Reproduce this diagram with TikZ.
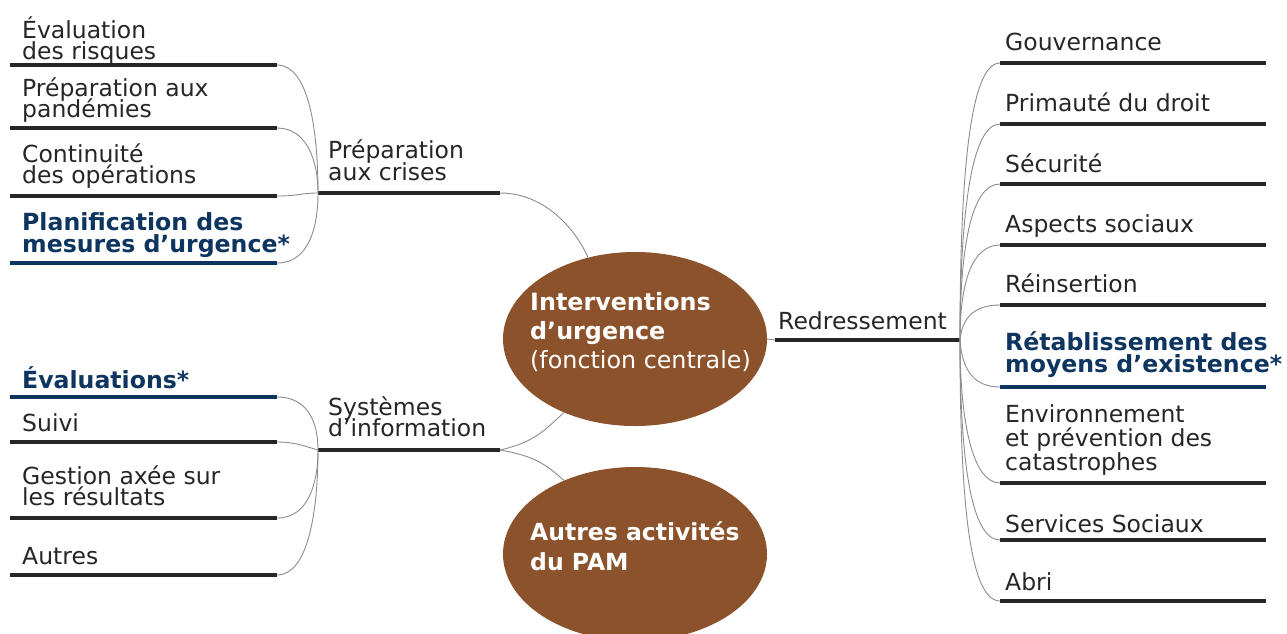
\documentclass[tikz,border=0pt]{standalone}
\usepackage{fontspec}
\setmainfont{DejaVu Sans}
\usetikzlibrary{shapes.geometric}
\definecolor{barcol}{HTML}{262626}
\definecolor{navy}{HTML}{0D3560}
\definecolor{ellbrown}{HTML}{8B522B}
\definecolor{linkgray}{HTML}{8C8C8C}
\definecolor{txt}{HTML}{262626}
\newcommand\mlines[2]{\vtop{\baselineskip=#1\lineskiplimit=-100pt\relax #2}}
\begin{document}
\begin{tikzpicture}[x=1pt,y=-1pt,
  barline/.style={line width=4pt, draw=barcol},
  keybar/.style={line width=4pt, draw=navy},
  link/.style={draw=linkgray, line width=0.9pt},
  leaf/.style={anchor=base west, inner sep=0pt, text=txt,
    font=\fontsize{23.5}{21.5}\selectfont},
  keyleaf/.style={leaf, text=navy, font=\fontsize{23.6}{21.5}\selectfont\bfseries},
  ell/.style={ellipse, fill=ellbrown, minimum width=264pt, minimum height=174pt, inner sep=0pt, outer sep=0pt},
  elltext/.style={anchor=base west, inner sep=0pt, text=white,
    font=\fontsize{23.8}{29}\selectfont},
]
\useasboundingbox (0,0) rectangle (1287,633);

% ---------- central ellipses ----------
\node[ell] (ci) at (635,339) {};
\node[elltext] (citext) at (530,310) {\mlines{29pt}{\hbox{\fontsize{23.8}{29}\selectfont\bfseries Interventions}\hbox{\fontsize{23.8}{29}\selectfont\bfseries d’urgence}\hbox{(fonction centrale)}}};
\node[ell] (ce) at (635,554) {};
\node[elltext, font=\fontsize{23.5}{30}\selectfont\bfseries] (cetext) at (530,540) {\mlines{30pt}{\hbox{Autres activités}\hbox{du PAM}}};

% ---------- Préparation aux crises ----------
\coordinate (pcL) at (318,193); \coordinate (pcR) at (500,193);
\draw[barline] (pcL) -- (pcR);
\node[leaf] (pctext) at (328,158) {\mlines{22pt}{\hbox{Préparation}\hbox{aux crises}}};

\coordinate (a1L) at (10,65);  \coordinate (a1R) at (277,65);
\coordinate (a2L) at (10,128); \coordinate (a2R) at (277,128);
\coordinate (a3L) at (10,196); \coordinate (a3R) at (277,196);
\coordinate (a4L) at (10,263); \coordinate (a4R) at (277,263);
\draw[barline] (a1L) -- (a1R);
\draw[barline] (a2L) -- (a2R);
\draw[barline] (a3L) -- (a3R);
\draw[keybar] (a4L) -- (a4R);
\node[leaf] (a1) at (22,38) {\mlines{21pt}{\hbox{Évaluation}\hbox{des risques}}};
\node[leaf] (a2) at (22,96.5) {\mlines{21pt}{\hbox{Préparation aux}\hbox{pandémies}}};
\node[leaf] (a3) at (22,162.5) {\mlines{21pt}{\hbox{Continuité}\hbox{des opérations}}};
\node[keyleaf] (a4) at (22,230) {\mlines{22pt}{\hbox{Planification des}\hbox{mesures d’urgence*}}};

\draw[link] (a1R) .. controls +(32,0) and +(0,-62) .. (pcL);
\draw[link] (a2R) .. controls +(30,0) and +(0,-32) .. (pcL);
\draw[link] (a3R) .. controls +(22,0) and +(-18,0) .. (pcL);
\draw[link] (a4R) .. controls +(32,0) and +(0,34) .. (pcL);

% ---------- Systèmes d'information ----------
\coordinate (siL) at (318,450); \coordinate (siR) at (500,450);
\draw[barline] (siL) -- (siR);
\node[leaf] (sitext) at (328,415) {\mlines{21pt}{\hbox{Systèmes}\hbox{d’information}}};

\coordinate (b1L) at (10,397); \coordinate (b1R) at (277,397);
\coordinate (b2L) at (10,442); \coordinate (b2R) at (277,442);
\coordinate (b3L) at (10,518); \coordinate (b3R) at (277,518);
\coordinate (b4L) at (10,575); \coordinate (b4R) at (277,575);
\draw[keybar] (b1L) -- (b1R);
\draw[barline] (b2L) -- (b2R);
\draw[barline] (b3L) -- (b3R);
\draw[barline] (b4L) -- (b4R);
\node[keyleaf] (b1) at (22,388) {Évaluations*};
\node[leaf] (b2) at (22,431) {Suivi};
\node[leaf] (b3) at (22,484.5) {\mlines{21pt}{\hbox{Gestion axée sur}\hbox{les résultats}}};
\node[leaf] (b4) at (22,564) {Autres};

\draw[link] (b1R) .. controls +(32,0) and +(0,-26) .. (siL);
\draw[link] (b2R) .. controls +(18,0) and +(-14,-4) .. (siL);
\draw[link] (b3R) .. controls +(32,0) and +(0,32) .. (siL);
\draw[link] (b4R) .. controls +(32,0) and +(0,58) .. (siL);

% hub to ellipses
\draw[link] (pcR) .. controls +(45,0) and +(-12,-28) .. (ci.120);
\draw[link] (siR) .. controls +(35,-8) and +(-20,18) .. (ci.226);
\draw[link] (siR) .. controls +(35,6) and +(-18,-16) .. (ce.134);

% ---------- Redressement ----------
\coordinate (rdL) at (775,340); \coordinate (rdR) at (960,340);
\draw[barline] (rdL) -- (rdR);
\node[leaf] (rdtext) at (778,329) {Redressement};
\draw[link] (ci.east) -- (rdL);

\foreach \n/\y in {r1/63,r2/124,r3/184,r4/245,r5/305,r6/387,r7/483,r8/540,r9/601}{
  \coordinate (\n L) at (1000,\y); \coordinate (\n R) at (1266,\y);
}
\draw[barline] (r1L) -- (r1R);
\draw[barline] (r2L) -- (r2R);
\draw[barline] (r3L) -- (r3R);
\draw[barline] (r4L) -- (r4R);
\draw[barline] (r5L) -- (r5R);
\draw[keybar]  (r6L) -- (r6R);
\draw[barline] (r7L) -- (r7R);
\draw[barline] (r8L) -- (r8R);
\draw[barline] (r9L) -- (r9R);
\node[leaf] (r1) at (1005,50) {Gouvernance};
\node[leaf] (r2) at (1005,111) {Primauté du droit};
\node[leaf] (r3) at (1005,172) {Sécurité};
\node[leaf] (r4) at (1005,232) {Aspects sociaux};
\node[leaf] (r5) at (1005,292) {Réinsertion};
\node[keyleaf] (r6) at (1005,350) {\mlines{22pt}{\hbox{Rétablissement des}\hbox{moyens d’existence*}}};
\node[leaf] (r7) at (1005,422) {\mlines{24pt}{\hbox{Environnement}\hbox{et prévention des}\hbox{catastrophes}}};
\node[leaf] (r8) at (1005,532) {Services Sociaux};
\node[leaf] (r9) at (1005,590) {Abri};

\draw[link] (rdR) .. controls +(0,-150) and +(-32,0) .. (r1L);
\draw[link] (rdR) .. controls +(0,-118) and +(-30,0) .. (r2L);
\draw[link] (rdR) .. controls +(0,-88) and +(-30,0) .. (r3L);
\draw[link] (rdR) .. controls +(0,-58) and +(-28,0) .. (r4L);
\draw[link] (rdR) .. controls +(2,-22) and +(-26,0) .. (r5L);
\draw[link] (rdR) .. controls +(2,30) and +(-26,0) .. (r6L);
\draw[link] (rdR) .. controls +(0,80) and +(-28,0) .. (r7L);
\draw[link] (rdR) .. controls +(0,115) and +(-30,0) .. (r8L);
\draw[link] (rdR) .. controls +(0,150) and +(-32,0) .. (r9L);
\end{tikzpicture}
\end{document}
